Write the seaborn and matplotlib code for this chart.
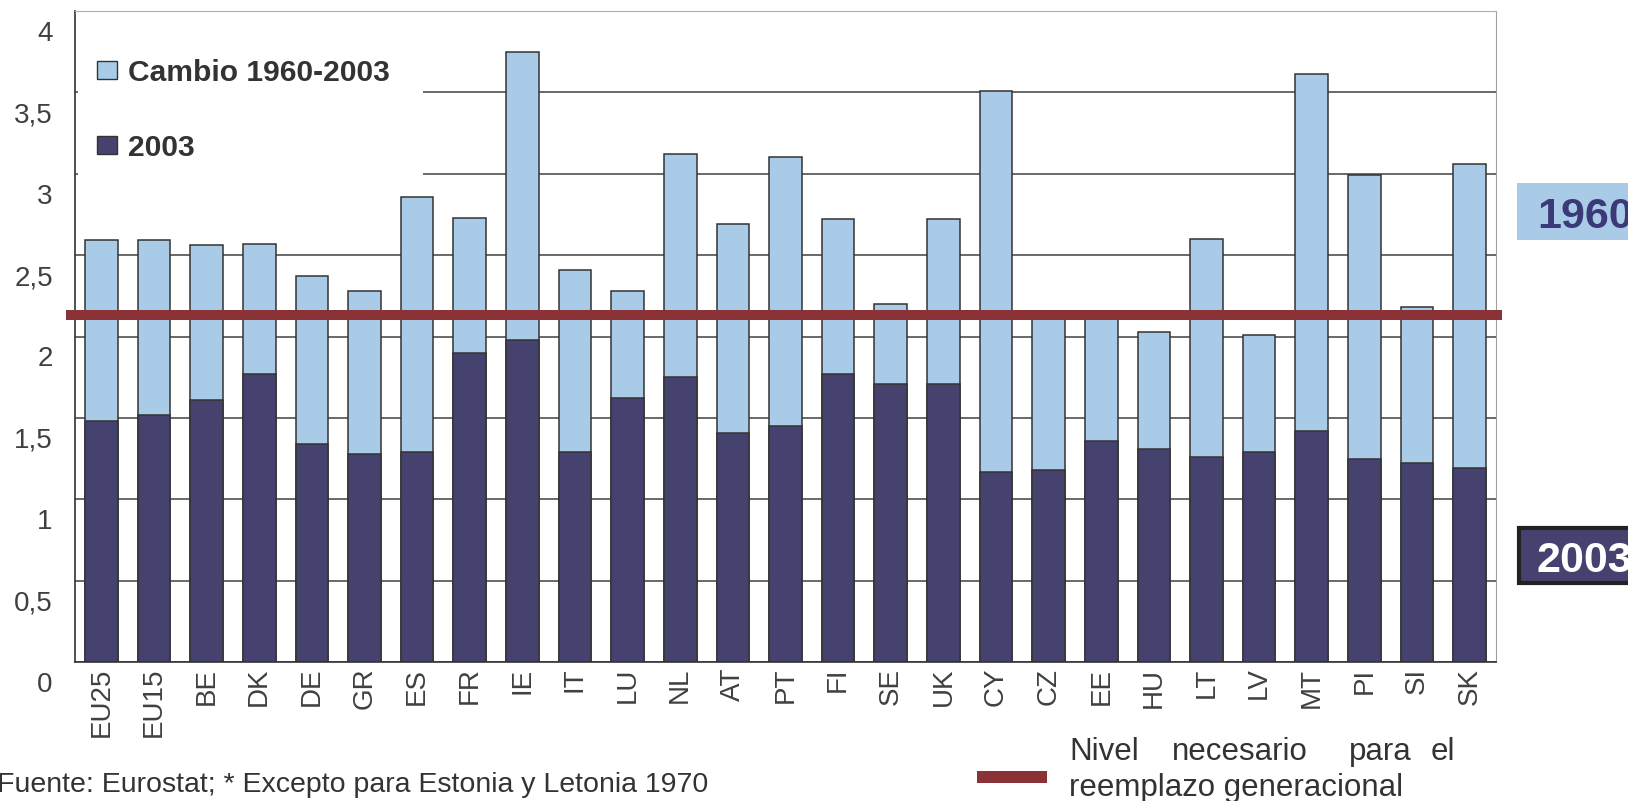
import numpy as np
import pandas as pd
import matplotlib
matplotlib.use("Agg")
import matplotlib.pyplot as plt
import seaborn as sns
from matplotlib.patches import Patch, Rectangle
from matplotlib.transforms import ScaledTranslation

# total fertility rate, 1960 (top of light bar) and 2003 (dark bar)
countries = ["EU25", "EU15", "BE", "DK", "DE", "GR", "ES", "FR", "IE", "IT", "LU", "NL", "AT", "PT",
             "FI", "SE", "UK", "CY", "CZ", "EE", "HU", "LT", "LV", "MT", "PI", "SI", "SK"]
tfr_1960 = [2.59, 2.59, 2.56, 2.57, 2.37, 2.28, 2.86, 2.73, 3.75, 2.41, 2.28, 3.12, 2.69, 3.10,
            2.72, 2.20, 2.72, 3.51, 2.11, 2.14, 2.03, 2.60, 2.01, 3.61, 2.99, 2.18, 3.06]
tfr_2003 = [1.48, 1.52, 1.61, 1.77, 1.34, 1.28, 1.29, 1.90, 1.98, 1.29, 1.62, 1.75, 1.41, 1.45,
            1.77, 1.71, 1.71, 1.165, 1.18, 1.36, 1.31, 1.26, 1.29, 1.42, 1.245, 1.225, 1.19]
replacement_level = 2.13
ytick_labels = ["0", "0,5", "1", "1,5", "2", "2,5", "3", "3,5", "4"]

light = "#a9cbe7"
navy = "#46426f"
red = "#8b3236"
edge = "#333333"
grey = "#404040"

sns.set_style("white")
plt.rcParams["font.family"] = ["Liberation Sans", "DejaVu Sans"]

df = pd.DataFrame({"country": countries, "y1960": tfr_1960, "y2003": tfr_2003})

fig = plt.figure(figsize=(16.28, 8.01), dpi=100)
ax = fig.add_axes([75 / 1628, 1 - 662 / 801, 1421 / 1628, 651 / 801])

sns.barplot(data=df, x="country", y="y1960", color=light, saturation=1, width=0.62,
            edgecolor=edge, linewidth=1.1, ax=ax, zorder=2)
sns.barplot(data=df, x="country", y="y2003", color=navy, saturation=1, width=0.62,
            edgecolor=edge, linewidth=1.1, ax=ax, zorder=2)

ax.set_xlim(-0.5, len(countries) - 0.5)
ax.set_ylim(0, 4)
ax.set_xlabel("")
ax.set_ylabel("")
ax.set_axisbelow(True)
ax.yaxis.grid(True, color=grey, lw=1.1)
ax.xaxis.grid(False)

# white box behind the legend hides the grid
ax.add_patch(Rectangle((0.002, 0.733), 0.243, 0.265, transform=ax.transAxes,
                       facecolor="white", edgecolor="none", zorder=1))

# x: ticks between bars, labels under bars
ax.set_xticks(np.arange(-0.5, len(countries), 1))
ax.set_xticklabels([])
ax.set_xticks(range(len(countries)), minor=True)
ax.set_xticklabels(countries, minor=True, rotation=90)
ax.tick_params(axis="x", which="major", direction="out", length=6, width=1, color=grey)
ax.tick_params(axis="x", which="minor", length=0, pad=4, labelsize=20, labelcolor=grey)

ax.set_yticks(np.arange(0, 4.01, 0.5))
ax.set_yticklabels(ytick_labels)
ax.tick_params(axis="y", direction="inout", length=16, width=1, color=grey, pad=8,
               labelsize=20, labelcolor=grey)
shift = ScaledTranslation(0, -0.2, fig.dpi_scale_trans)
for lab in ax.get_yticklabels():
    lab.set_transform(lab.get_transform() + shift)

for side in ["left", "bottom"]:
    ax.spines[side].set_color(edge)
    ax.spines[side].set_linewidth(1.2)
ax.spines["top"].set_color("#b0b0b0")
ax.spines["right"].set_color("#a0a0a0")

ax.axhline(replacement_level, xmin=-0.0063, xmax=1.0042, color=red, lw=7.2,
           clip_on=False, zorder=3, solid_capstyle="butt")

handles = [Patch(facecolor=light, edgecolor=edge, lw=1.0, label="Cambio 1960-2003"),
           Patch(facecolor=navy, edgecolor=edge, lw=1.0, label="2003")]
leg = ax.legend(handles=handles, loc="upper left", bbox_to_anchor=(0.0155, 0.927),
                frameon=False, prop={"weight": "bold", "size": 21.6},
                handlelength=0.67, handleheight=0.57, handletextpad=0.37,
                labelspacing=1.57, borderpad=0, borderaxespad=0)
for t in leg.get_texts():
    t.set_color("#333333")

# right-hand year tags
fig.add_artist(Rectangle((1517 / 1628, 1 - 240 / 801), 0.1, 57 / 801, transform=fig.transFigure,
                         facecolor=light, edgecolor="none"))
fig.text(1537 / 1628, 1 - 228.5 / 801, "1960", color="#3b3978", weight="bold", size=31,
         ha="left", va="baseline")
fig.add_artist(Rectangle((1519 / 1628, 1 - 583 / 801), 0.1, 55 / 801, transform=fig.transFigure,
                         facecolor=navy, edgecolor="#222222", lw=3))
fig.text(1537 / 1628, 1 - 572 / 801, "2003", color="white", weight="bold", size=31,
         ha="left", va="baseline")

# footnote
fig.text(-3 / 1628, 1 - 792 / 801, "Fuente: Eurostat; * Excepto para Estonia y Letonia 1970",
         size=20.5, color="#333333", ha="left", va="baseline")

# replacement-level key
fig.add_artist(Rectangle((977 / 1628, 1 - 783 / 801), 70 / 1628, 12 / 801,
                         transform=fig.transFigure, facecolor=red, edgecolor="none"))
for word, xpos in [("Nivel", 1069), ("necesario", 1172), ("para", 1349), ("el", 1431)]:
    fig.text(xpos / 1628, 1 - 760 / 801, word, size=22.5, color="#333333",
             ha="left", va="baseline")
fig.text(1069 / 1628, 1 - 796 / 801, "reemplazo generacional", size=22.5, color="#333333",
         ha="left", va="baseline")

fig.savefig("out.png", dpi=100)
